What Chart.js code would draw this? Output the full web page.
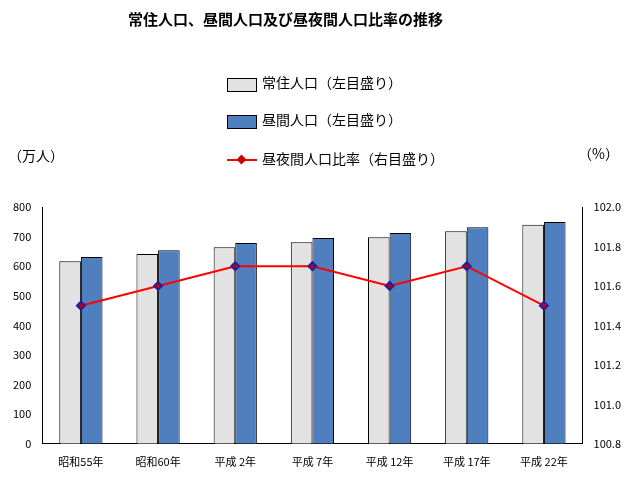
<!DOCTYPE html><html><head><meta charset="utf-8">
<script src="https://cdn.jsdelivr.net/npm/chart.js@4"></script>
<style>body{margin:0;background:#fff;font-family:"Noto Sans CJK JP";}
.t{position:absolute;font-size:14px;color:#000;white-space:nowrap}
.sw{position:absolute;width:28px;height:12px;border:1px solid #000}
</style></head><body>
<div style="position:relative;width:636px;height:484px">
<canvas id="c" width="636" height="484"></canvas>
<div class="t" style="left:128px;top:8px;font-weight:bold;font-size:15px">常住人口、昼間人口及び昼夜間人口比率の推移</div>
<div class="sw" style="left:227px;top:78px;background:#e2e2e2"></div><div class="t" style="left:262px;top:72px">常住人口（左目盛り）</div>
<div class="sw" style="left:227px;top:115px;background:#4f7fbf"></div><div class="t" style="left:262px;top:109px">昼間人口（左目盛り）</div>
<div style="position:absolute;left:227px;top:159px;width:30px;height:2px;background:#f00"></div><div style="position:absolute;left:238px;top:156px;width:7px;height:7px;background:#c00;transform:rotate(45deg)"></div><div class="t" style="left:262px;top:148px">昼夜間人口比率（右目盛り）</div>
<div class="t" style="left:8px;top:145px">（万人）</div>
<div class="t" style="left:578px;top:143px">（%）</div>
</div>
<script>
const categories=["昭和55年","昭和60年","平成 2年","平成 7年","平成 12年","平成 17年","平成 22年"];
const resident=[617,641,664,681,698,718,740];
const daytime=[631,654,678,695,712,732,749];
const ratio=[101.5,101.6,101.7,101.7,101.6,101.7,101.5];
const f={family:"Noto Sans CJK JP",size:11};
new Chart(document.getElementById('c'),{data:{labels:categories,datasets:[
{type:'line',data:ratio,yAxisID:'y2',borderColor:'#ff0000',borderWidth:2,pointStyle:'rectRot',pointRadius:4,pointBackgroundColor:'#c00000',pointBorderColor:'#2020a0',order:0},
{type:'bar',data:resident,yAxisID:'y',backgroundColor:'#e2e2e2',borderColor:'#000',borderWidth:1,barPercentage:1,categoryPercentage:0.56,order:1},
{type:'bar',data:daytime,yAxisID:'y',backgroundColor:'#4f7fbf',borderColor:'#000',borderWidth:1,barPercentage:1,categoryPercentage:0.56,order:1}]},
options:{responsive:false,animation:false,layout:{padding:{top:207,left:10,right:12,bottom:13}},plugins:{legend:{display:false},tooltip:{enabled:false}},
scales:{x:{grid:{display:false},border:{color:'#000'},ticks:{color:'#000',font:f,maxRotation:0}},
y:{min:0,max:800,ticks:{stepSize:100,color:'#000',font:f},grid:{display:false,drawTicks:true},border:{color:'#000'}},
y2:{position:'right',min:100.8,max:102,ticks:{stepSize:0.2,color:'#000',font:f,callback:v=>v.toFixed(1)},grid:{display:false},border:{color:'#000'}}}}});
</script></body></html>
